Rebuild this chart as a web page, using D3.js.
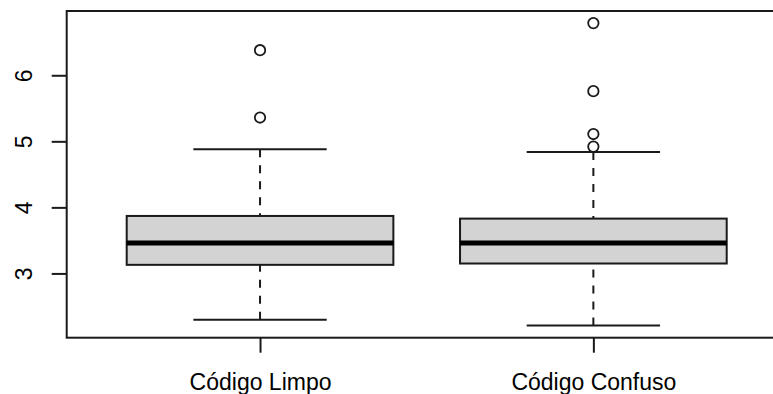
<!DOCTYPE html>
<html>
<head>
<meta charset="utf-8">
<script src="https://cdn.jsdelivr.net/npm/d3@7"></script>
<style>
  html, body { margin: 0; padding: 0; background: #fff; }
  svg { display: block; }
  text { font-family: "Liberation Sans", Arial, Helvetica, sans-serif; fill: #000; }
</style>
</head>
<body>
<svg id="chart" width="773" height="394"></svg>
<script>
// Box plot summary per group: lower whisker, Q1, median, Q3, upper whisker
const categories = ["Código Limpo", "Código Confuso"];
const whiskerLow = [2.30, 2.21];
const quartile1  = [3.13, 3.15];
const medians    = [3.46, 3.46];
const quartile3  = [3.87, 3.83];
const whiskerHigh = [4.88, 4.84];
const outliers = [
  [5.36, 6.38],
  [4.92, 5.11, 5.76, 6.79]
];
const yTicks = [3, 4, 5, 6];

const ink = "#1a1a1a";
const svg = d3.select("#chart");

// plot region (right edge runs past the window)
const plotL = 66.7, plotR = 786.7, plotT = 11, plotB = 337.7;

// x positions 1..n, range padded by 4% like base graphics
const xDom = [0.5, categories.length + 0.5];
const xPad = (xDom[1] - xDom[0]) * 0.04;
const x = d3.scaleLinear().domain([xDom[0] - xPad, xDom[1] + xPad]).range([plotL, plotR]);

const allVals = whiskerLow.concat(whiskerHigh, ...outliers);
const [lo, hi] = d3.extent(allVals);
const yPad = (hi - lo) * 0.04;
const y = d3.scaleLinear().domain([lo - yPad, hi + yPad]).range([plotB, plotT]);

const boxHalf = 0.4, stapleHalf = 0.2;

const groups = categories.map((c, i) => ({
  pos: i + 1,
  wl: whiskerLow[i], q1: quartile1[i], med: medians[i], q3: quartile3[i], wh: whiskerHigh[i],
  out: outliers[i]
}));

const g = svg.append("g");

groups.forEach(d => {
  const cx = x(d.pos);
  // dashed whiskers, drawn from whisker end toward the box
  [[d.wl, d.q1], [d.wh, d.q3]].forEach(([a, b]) => {
    g.append("line")
      .attr("x1", cx).attr("x2", cx)
      .attr("y1", y(a)).attr("y2", y(b))
      .attr("stroke", ink).attr("stroke-width", 2)
      .attr("stroke-dasharray", "8,8");
  });
  // staples
  [d.wl, d.wh].forEach(v => {
    g.append("line")
      .attr("x1", x(d.pos - stapleHalf)).attr("x2", x(d.pos + stapleHalf))
      .attr("y1", y(v)).attr("y2", y(v))
      .attr("stroke", ink).attr("stroke-width", 2);
  });
  // box
  g.append("rect")
    .attr("x", x(d.pos - boxHalf))
    .attr("width", x(d.pos + boxHalf) - x(d.pos - boxHalf))
    .attr("y", y(d.q3))
    .attr("height", y(d.q1) - y(d.q3))
    .attr("fill", "#d3d3d3")
    .attr("stroke", ink).attr("stroke-width", 2);
  // median
  g.append("line")
    .attr("x1", x(d.pos - boxHalf)).attr("x2", x(d.pos + boxHalf))
    .attr("y1", y(d.med)).attr("y2", y(d.med))
    .attr("stroke", "#000").attr("stroke-width", 5);
  // outliers
  g.selectAll(null).data(d.out).enter().append("circle")
    .attr("cx", cx).attr("cy", v => y(v)).attr("r", 5.2)
    .attr("fill", "none").attr("stroke", ink).attr("stroke-width", 1.8);
});

// frame
svg.append("rect")
  .attr("x", plotL).attr("y", plotT)
  .attr("width", plotR - plotL).attr("height", plotB - plotT)
  .attr("fill", "none").attr("stroke", ink).attr("stroke-width", 2);

// y axis with rotated labels
const yAxis = svg.append("g")
  .attr("transform", `translate(${plotL},0)`)
  .call(d3.axisLeft(y).tickValues(yTicks).tickSize(15).tickSizeOuter(0).tickFormat(d3.format("d")));
yAxis.select(".domain").remove();
yAxis.selectAll(".tick line").attr("stroke", ink).attr("stroke-width", 2);
yAxis.selectAll(".tick text")
  .attr("x", null).attr("dy", null)
  .attr("text-anchor", "middle")
  .attr("transform", "translate(-35,0) rotate(-90)")
  .style("font-size", "23px")
  .style("font-family", "'Liberation Sans', Arial, Helvetica, sans-serif")
  .attr("fill", "#000");

// x axis with category labels
const xAxis = svg.append("g")
  .attr("transform", `translate(0,${plotB})`)
  .call(d3.axisBottom(x).tickValues(groups.map(d => d.pos)).tickSize(15).tickSizeOuter(0)
    .tickFormat((v, i) => categories[i]));
xAxis.select(".domain").remove();
xAxis.selectAll(".tick line").attr("stroke", ink).attr("stroke-width", 2);
xAxis.selectAll(".tick text")
  .attr("y", 52).attr("dy", null)
  .style("font-size", "23px")
  .style("font-family", "'Liberation Sans', Arial, Helvetica, sans-serif")
  .attr("fill", "#000");
</script>
</body>
</html>
